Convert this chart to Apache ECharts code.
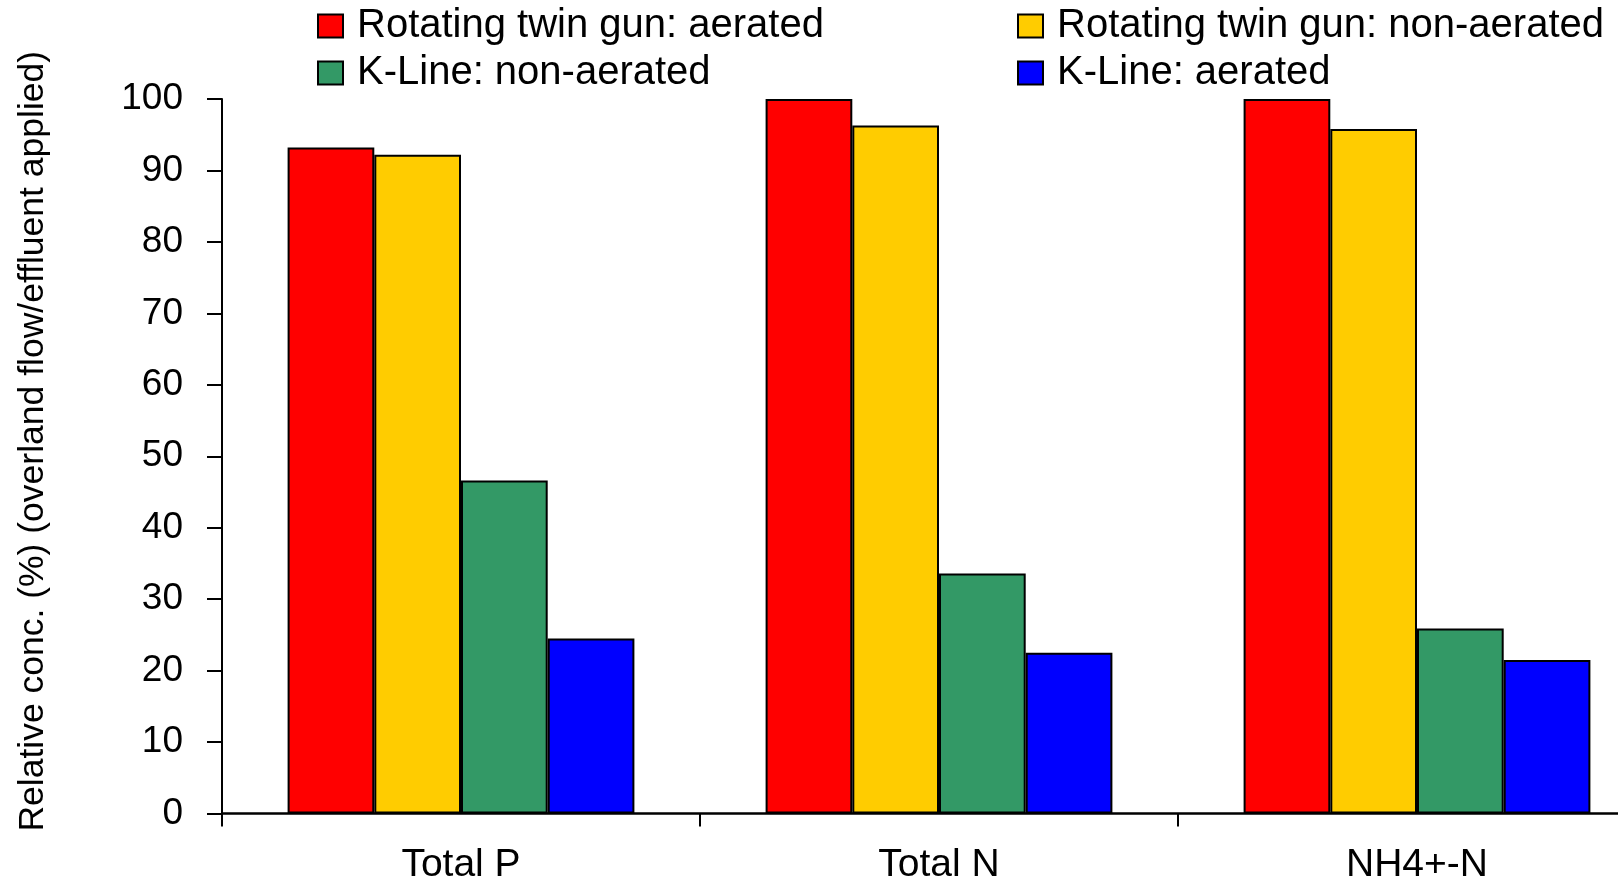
<!DOCTYPE html>
<html>
<head>
<meta charset="utf-8">
<script src="https://cdn.jsdelivr.net/npm/echarts@6/dist/echarts.min.js"></script>
<style>
html,body{margin:0;padding:0;background:#fff;}
#chart{width:1618px;height:886px;}
</style>
</head>
<body>
<div id="chart"></div>
<script>
const categories = ['Total P', 'Total N', 'NH4+-N'];
const seriesNames = ['Rotating twin gun: aerated', 'Rotating twin gun: non-aerated', 'K-Line: non-aerated', 'K-Line: aerated'];
const rtgAerated = [93.2, 100, 100];
const rtgNonAerated = [92.2, 96.3, 95.8];
const kLineNonAerated = [46.6, 33.6, 25.9];
const kLineAerated = [24.5, 22.5, 21.5];
const yTicks = [0, 10, 20, 30, 40, 50, 60, 70, 80, 90, 100];
const yTitle = 'Relative conc. (%) (overland flow/effluent applied)';

const colors = ['#FF0000', '#FFCC00', '#339966', '#0000FF'];
const values = [rtgAerated, rtgNonAerated, kLineNonAerated, kLineAerated];
const FONT = '"Liberation Sans", Arial, sans-serif';

const chart = echarts.init(document.getElementById('chart'), null, {renderer: 'canvas'});

const legendCommon = {
  orient: 'vertical',
  itemWidth: 25,
  itemHeight: 23,
  itemGap: 7,
  icon: 'rect',
  selectedMode: false,
  textStyle: {fontFamily: FONT, fontSize: 40, color: '#000', padding: [0, 0, 0, 9]}
};

const option = {
  backgroundColor: '#fff',
  animation: false,
  color: colors,
  legend: [
    Object.assign({}, legendCommon, {left: 312, top: 1, data: [seriesNames[0], seriesNames[2]]}),
    Object.assign({}, legendCommon, {left: 1012, top: 1, data: [seriesNames[1], seriesNames[3]]})
  ],
  grid: {left: 222, width: 1434, top: 99, height: 714.5, containLabel: false, outerBoundsMode: 'none'},
  xAxis: {
    type: 'category',
    data: categories,
    boundaryGap: true,
    axisLine: {lineStyle: {color: '#000', width: 2.5}},
    axisTick: {show: true, inside: false, length: 13, lineStyle: {color: '#000', width: 2}, alignWithLabel: false},
    axisLabel: {fontFamily: FONT, fontSize: 39, color: '#000', margin: 32},
    splitLine: {show: false}
  },
  yAxis: {
    type: 'value',
    min: yTicks[0],
    max: yTicks[yTicks.length - 1],
    interval: yTicks[1] - yTicks[0],
    name: yTitle,
    nameLocation: 'middle',
    nameGap: 171,
    nameTextStyle: {fontFamily: FONT, fontSize: 35.5, color: '#000', padding: [0, 0, 0, 30]},
    axisLine: {show: true, lineStyle: {color: '#000', width: 2}},
    axisTick: {show: true, inside: false, length: 15, lineStyle: {color: '#000', width: 2}},
    axisLabel: {fontFamily: FONT, fontSize: 37, color: '#000', margin: 39},
    splitLine: {show: false}
  },
  series: seriesNames.map((name, i) => ({
    name: name,
    type: 'bar',
    data: values[i],
    barWidth: 86.7,
    barGap: '0%',
    itemStyle: {color: colors[i], borderColor: '#000', borderWidth: 2}
  }))
};
chart.setOption(option);
</script>
</body>
</html>
